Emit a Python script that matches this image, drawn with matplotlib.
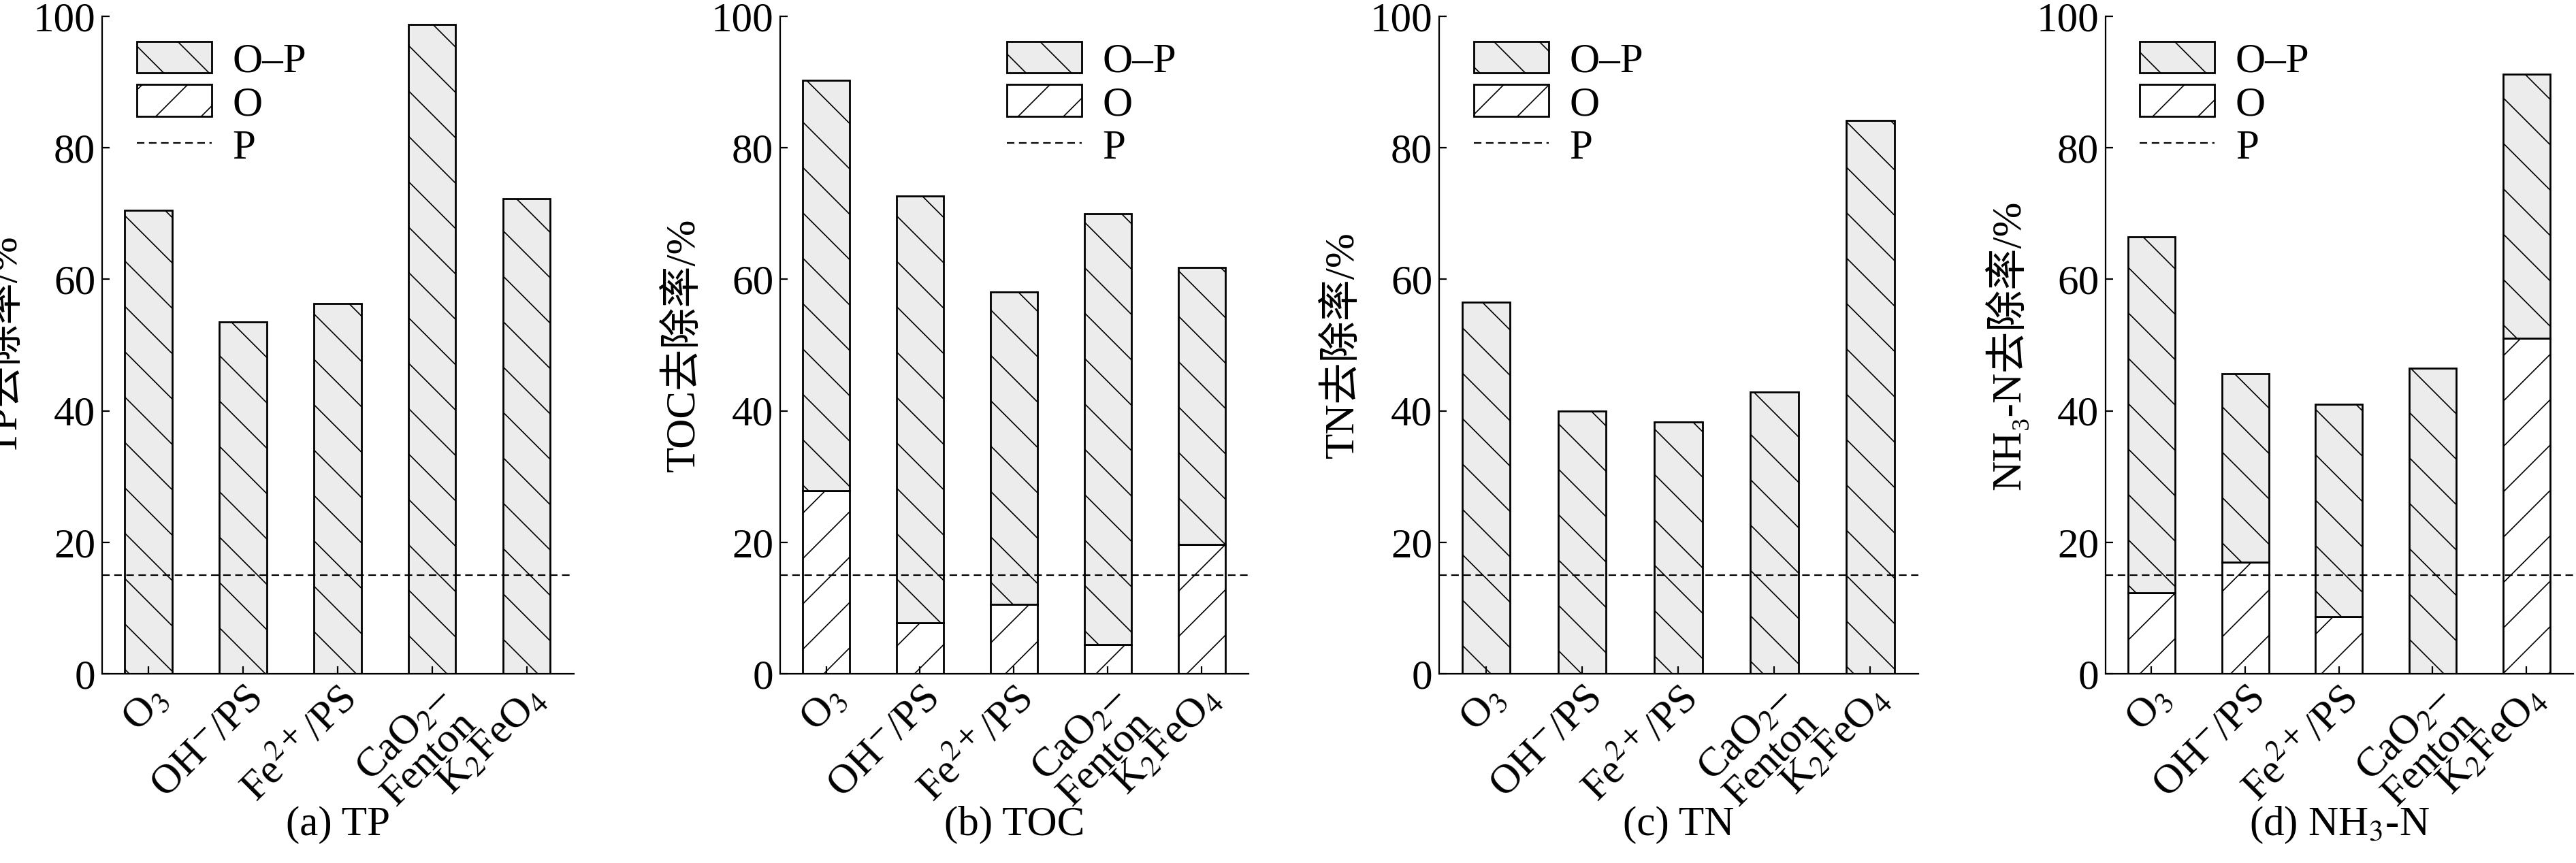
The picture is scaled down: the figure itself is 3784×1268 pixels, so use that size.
import numpy as np
import matplotlib
matplotlib.use('Agg')
import matplotlib.pyplot as plt
from matplotlib.patches import Patch
from matplotlib.lines import Line2D

plt.rcParams['font.family'] = ['Liberation Serif', 'Noto Sans CJK SC']
plt.rcParams['mathtext.fontset'] = 'stix'
plt.rcParams['hatch.linewidth'] = 0.6
plt.rcParams['font.size'] = 22

# ── DATA ─────────────────────────────────────────
methods = ['O$_3$', 'OH$^{-}$/PS', 'Fe$^{2+}$/PS', 'CaO$_2$–\nFenton', 'K$_2$FeO$_4$']
p_level = 15

tp_total  = [70.5, 53.5, 56.3, 98.8, 72.3]
tp_o      = [0, 0, 0, 0, 0]
toc_total = [90.3, 72.7, 58.1, 70.0, 61.8]
toc_o     = [27.8, 7.8, 10.6, 4.5, 19.7]
tn_total  = [56.5, 40.0, 38.3, 42.9, 84.2]
tn_o      = [0, 0, 0, 0, 0]
nh_total  = [66.5, 45.7, 41.0, 46.5, 91.2]
nh_o      = [12.3, 17.0, 8.7, 0, 51.0]

panels = [
    ('TP去除率/%', '(a) TP', tp_total, tp_o),
    ('TOC去除率/%', '(b) TOC', toc_total, toc_o),
    ('TN去除率/%', '(c) TN', tn_total, tn_o),
    ('NH\u2083-N去除率/%', '(d) NH$_3$-N', nh_total, nh_o),
]

W, H = 3784, 1268
fig = plt.figure(figsize=(W / 200, H / 200), dpi=200)

lefts = [150, 1146, 2114, 3093]
widths = [693, 688, 704, 687]
bottom_px, top_px = 990, 24
legend_anchor = [(0.02, 1.0), (0.43, 1.0), (0.02, 1.0), (0.02, 1.0)]

x = np.arange(len(methods))
for i, (ylab, cap, total, o) in enumerate(panels):
    ax = fig.add_axes([lefts[i] / W, 1 - bottom_px / H,
                       widths[i] / W, (bottom_px - top_px) / H])
    total = np.array(total)
    o = np.array(o)
    ax.bar(x, o, 0.5, color='white', edgecolor='black', hatch='/', linewidth=1)
    ax.bar(x, total - o, 0.5, bottom=o, color='#ececec', edgecolor='black',
           hatch='\\', linewidth=1)
    ax.axhline(p_level, color='black', linestyle=(0, (5, 3)), linewidth=0.8)
    ax.set_xlim(-0.49, 4.5)
    ax.set_ylim(0, 100)
    ax.set_yticks([0, 20, 40, 60, 80, 100])
    ax.set_xticks(x)
    ax.set_xticklabels(methods, rotation=45, ha='right', rotation_mode='anchor',
                       linespacing=0.9)
    ax.tick_params(direction='in', length=4, labelsize=22)
    for s in ['top', 'right']:
        ax.spines[s].set_visible(False)
    ax.set_ylabel(ylab, fontsize=22, labelpad=4)
    handles = [Patch(facecolor='#ececec', edgecolor='black', hatch='\\'),
               Patch(facecolor='white', edgecolor='black', hatch='/'),
               Line2D([0], [0], color='black', linestyle=(0, (5, 3)), linewidth=0.8)]
    ax.legend(handles, ['O–P', 'O', 'P'], loc='upper left',
              bbox_to_anchor=legend_anchor[i], frameon=False, fontsize=22,
              handlelength=1.8, handleheight=0.8, labelspacing=0.1,
              handletextpad=0.5, borderaxespad=0.2)
    fig.text((lefts[i] + widths[i] / 2) / W, 1 - 1212 / H, cap,
             ha='center', va='center', fontsize=22)

fig.savefig('out.png', dpi=200)
